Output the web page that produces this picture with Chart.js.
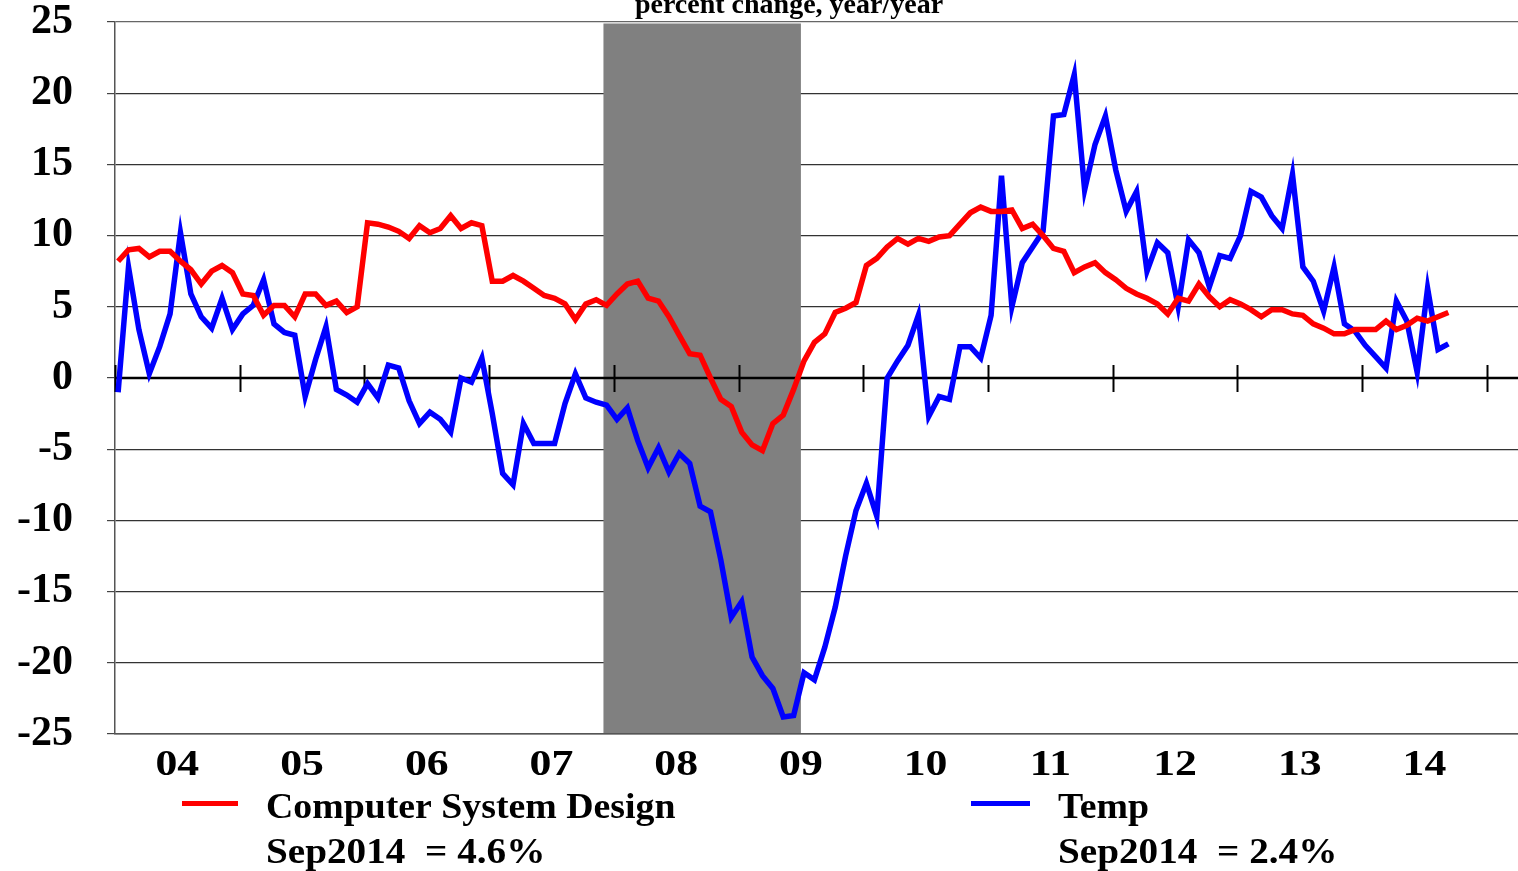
<!DOCTYPE html>
<html>
<head>
<meta charset="utf-8">
<script src="https://cdn.jsdelivr.net/npm/chart.js@4.4.1/dist/chart.umd.min.js"></script>
<style>
html,body{margin:0;padding:0;background:#fff;}
canvas{display:block;}
</style>
</head>
<body>
<canvas id="c" width="1518" height="871"></canvas>
<script>
// ---- data (monthly, Jan 2004 .. Sep 2014) ----
const startYear = 2004;
const yearLabels = ['04','05','06','07','08','09','10','11','12','13','14'];
const computerSystemDesign = [
 8.2,9.0,9.1,8.5,8.9,8.9,8.2,7.6,6.6,7.5,7.9,7.4,
 5.9,5.8,4.4,5.1,5.1,4.3,5.9,5.9,5.1,5.4,4.6,5.0,
 10.9,10.8,10.6,10.3,9.8,10.7,10.2,10.5,11.4,10.5,10.9,10.7,
 6.8,6.8,7.2,6.8,6.3,5.8,5.6,5.2,4.1,5.2,5.5,5.1,
 5.9,6.6,6.8,5.6,5.4,4.3,3.0,1.7,1.6,0.0,-1.5,-2.0,
 -3.8,-4.7,-5.1,-3.2,-2.6,-0.8,1.2,2.5,3.1,4.6,4.9,5.3,
 7.9,8.4,9.2,9.8,9.4,9.8,9.6,9.9,10.0,10.8,11.6,12.0,
 11.7,11.7,11.8,10.5,10.8,10.0,9.1,8.9,7.4,7.8,8.1,7.4,
 6.9,6.3,5.9,5.6,5.2,4.5,5.6,5.4,6.6,5.7,5.0,5.5,
 5.2,4.8,4.3,4.8,4.8,4.5,4.4,3.8,3.5,3.1,3.1,3.4,
 3.4,3.4,4.0,3.4,3.7,4.2,4.0,4.3,4.6
];
const temp = [
 -1.0,7.8,3.4,0.3,2.2,4.5,10.2,5.9,4.3,3.5,5.6,3.4,
 4.5,5.1,6.9,3.8,3.2,3.0,-1.3,1.3,3.6,-0.8,-1.2,-1.7,
 -0.4,-1.4,0.9,0.7,-1.6,-3.2,-2.4,-2.9,-3.8,0.0,-0.3,1.4,
 -2.5,-6.7,-7.5,-3.2,-4.6,-4.6,-4.6,-1.8,0.3,-1.4,-1.7,-1.9,
 -2.9,-2.1,-4.4,-6.3,-4.9,-6.6,-5.3,-6.0,-9.0,-9.4,-12.8,-16.8,
 -15.7,-19.6,-20.9,-21.8,-23.8,-23.7,-20.7,-21.2,-18.9,-16.1,-12.5,-9.3,
 -7.4,-9.7,0.0,1.2,2.3,4.4,-2.7,-1.3,-1.5,2.2,2.2,1.4,
 4.4,14.2,5.0,8.1,9.2,10.3,18.4,18.5,21.3,13.2,16.4,18.4,
 14.6,11.7,13.1,7.5,9.5,8.8,5.0,9.7,8.8,6.4,8.6,8.4,
 10.0,13.1,12.7,11.4,10.5,14.3,7.8,6.8,4.7,7.8,3.8,3.3,
 2.3,1.5,0.7,5.4,4.0,0.4,6.3,2.0,2.4
];
const yTicks = [25,20,15,10,5,0,-5,-10,-15,-20,-25];
const recessionStart = [2007, 12];
const recessionEnd = [2009, 6];
const seriesNames = ['Computer System Design', 'Temp'];
const latestNotes = ['Sep2014  = 4.6%', 'Sep2014  = 2.4%'];
const titleText = 'percent change, year/year';

// ---- helpers ----
const POS_IN_MONTH = 0.3;
const monthIndex = (y, m) => (y - startYear) * 12 + (m - 1);
const toXY = arr => arr.map((v, i) => ({x: i + POS_IN_MONTH, y: v}));
const SERIF = "'Liberation Serif','Times New Roman',serif";

const overlay = {
  id: 'overlay',
  beforeDatasetsDraw(chart) {
    const {ctx, chartArea: a, scales: {x, y}} = chart;
    ctx.save();
    // recession shading
    const x0 = x.getPixelForValue(monthIndex(...recessionStart));
    const x1 = x.getPixelForValue(monthIndex(...recessionEnd) + 1);
    ctx.fillStyle = '#808080';
    ctx.fillRect(x0, a.top + 1.5, x1 - x0, a.bottom - a.top - 2.5);
    // zero line
    const y0 = y.getPixelForValue(0);
    ctx.strokeStyle = '#000';
    ctx.lineWidth = 2.5;
    ctx.beginPath();
    ctx.moveTo(a.left, y0); ctx.lineTo(a.right, y0);
    ctx.stroke();
    // year tick marks on the zero line
    ctx.lineWidth = 2;
    for (let k = 0; k <= yearLabels.length; k++) {
      const px = Math.round(x.getPixelForValue(k * 12)) + 0.5;
      ctx.beginPath();
      ctx.moveTo(px, y0 - 13); ctx.lineTo(px, y0 + 14);
      ctx.stroke();
    }
    ctx.restore();
  },
  afterDraw(chart) {
    const {ctx, scales: {x}} = chart;
    ctx.save();
    ctx.fillStyle = '#000';
    // title (partly cut at top)
    ctx.font = `bold 28px ${SERIF}`;
    ctx.textAlign = 'center';
    ctx.textBaseline = 'alphabetic';
    ctx.fillText(titleText, 789, 13);
    // year labels
    ctx.font = `bold 35px ${SERIF}`;
    yearLabels.forEach((lab, k) => {
      const px = x.getPixelForValue(k * 12 + 6);
      ctx.save();
      ctx.translate(px, 775);
      ctx.scale(1.25, 1);
      ctx.fillText(lab, 0, 0);
      ctx.restore();
    });
    // legend
    const colors = ['#ff0000', '#0000ff'];
    const lineX = [[182, 238], [971, 1030]];
    const textX = [266, 1058];
    const stretch = [1.08, 1.12];
    ctx.textAlign = 'left';
    ctx.font = `bold 35px ${SERIF}`;
    for (let s = 0; s < 2; s++) {
      ctx.strokeStyle = colors[s];
      ctx.lineWidth = 5;
      ctx.beginPath();
      ctx.moveTo(lineX[s][0], 803.5); ctx.lineTo(lineX[s][1], 803.5);
      ctx.stroke();
      [seriesNames[s], latestNotes[s]].forEach((t, j) => {
        ctx.save();
        ctx.translate(textX[s], 818 + j * 45);
        ctx.scale(stretch[j], 1);
        ctx.fillText(t, 0, 0);
        ctx.restore();
      });
    }
    ctx.restore();
  }
};

new Chart(document.getElementById('c'), {
  type: 'line',
  data: {
    datasets: [
      {label: seriesNames[0], data: toXY(computerSystemDesign), borderColor: '#ff0000',
       borderWidth: 5.5, pointRadius: 0, tension: 0, fill: false},
      {label: seriesNames[1], data: toXY(temp), borderColor: '#0000ff',
       borderWidth: 5.5, pointRadius: 0, tension: 0, fill: false}
    ]
  },
  options: {
    responsive: false,
    devicePixelRatio: 1,
    animation: false,
    layout: {padding: {top: 22, right: 0, left: 0, bottom: 0}},
    plugins: {legend: {display: false}, tooltip: {enabled: false}, title: {display: false}},
    scales: {
      x: {
        type: 'linear', min: 0, max: 135,
        grid: {display: false},
        border: {display: true, color: '#555', width: 1.5},
        ticks: {display: false},
        afterFit(s) { s.height = 137; s.paddingLeft = 0; s.paddingRight = 0; }
      },
      y: {
        min: -25, max: 25,
        afterBuildTicks(s) { s.ticks = yTicks.map(v => ({value: v})); },
        grid: {
          color: ctx => ctx.tick && ctx.tick.value === 25 ? '#666' : '#333',
          lineWidth: 1.2,
          drawTicks: true, tickLength: 8, tickColor: '#444', tickWidth: 1.2
        },
        border: {display: true, color: '#555', width: 1.5},
        ticks: {
          color: '#000', padding: 34,
          font: {family: SERIF, size: 42, weight: 'bold'},
          callback: v => String(v)
        },
        afterFit(s) { s.width = 115; s.paddingTop = 0; s.paddingBottom = 0; }
      }
    }
  },
  plugins: [overlay]
});
</script>
</body>
</html>
